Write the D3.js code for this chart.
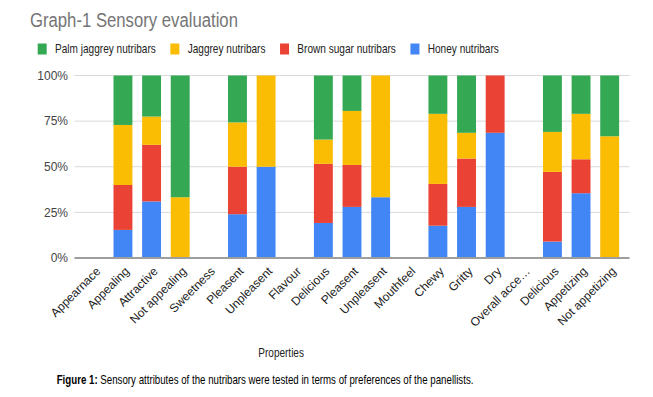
<!DOCTYPE html>
<html>
<head>
<meta charset="utf-8">
<script src="https://cdn.jsdelivr.net/npm/d3@7"></script>
<style>
  body { margin: 0; background: #fff; }
  svg { display: block; font-family: "Liberation Sans", Arial, sans-serif; }
</style>
</head>
<body>
<svg id="chart" width="653" height="397"></svg>
<script>
var categories = ["Appearnace","Appealing","Attractive","Not appealing","Sweetness","Pleasent","Unpleasent","Flavour","Delicious","Pleasent","Unpleasent","Mouthfeel","Chewy","Gritty","Dry","Overall acceptability","Delicious","Appetizing","Not appetizing"];
var honey   = [0,15.4,31,0,0,24,50,0,19.2,28,33.3,0,17.7,28,68.6,0,9,35.5,0];
var brown   = [0,24.6,31,0,0,26,0,0,32.4,23,0,0,22.9,26.5,31.4,0,38.2,18.6,0];
var jaggrey = [0,32.9,15.5,33.3,0,24.3,50,0,13.3,29.6,66.7,0,38.4,14.1,0,0,21.9,24.9,66.7];
var palm    = [0,27.1,22.5,66.7,0,25.7,0,0,35.1,19.4,0,0,21,31.4,0,0,30.9,21,33.3];
var seriesNames = ["Honey nutribars","Brown sugar nutribars","Jaggrey nutribars","Palm jaggrey nutribars"];
var seriesColors = ["#4285f4","#ea4335","#fbbc04","#34a853"];
var yTicks = [0, 0.25, 0.5, 0.75, 1];

var svg = d3.select("#chart");

// squeeze text horizontally to a measured width
function squeeze(sel, w) {
  var node = sel.node();
  var bw = node.getBBox().width;
  var x = +sel.attr("x");
  sel.attr("transform", "translate(" + x + ",0) scale(" + (w / bw) + ",1) translate(" + (-x) + ",0)");
}

var rows = categories.map(function(c, i) {
  return {i: i, h: honey[i], b: brown[i], j: jaggrey[i], p: palm[i]};
});
var stack = d3.stack().keys(["h","b","j","p"]).offset(d3.stackOffsetExpand);
var layers = stack(rows);

var x = d3.scaleBand().domain(d3.range(categories.length)).range([80, 624])
  .paddingInner(0.34).paddingOuter(0.17);
var y = d3.scaleLinear().domain([0, 1]).range([258, 75.5]);

// gridlines
svg.append("g")
  .selectAll("line")
  .data(yTicks.slice(1))
  .enter().append("line")
  .attr("x1", 74.5).attr("x2", 629.5)
  .attr("y1", function(d) { return y(d); })
  .attr("y2", function(d) { return y(d); })
  .attr("stroke", "#d9d9d9").attr("stroke-width", 1);

// bars
svg.append("g")
  .selectAll("g")
  .data(layers)
  .enter().append("g")
  .attr("fill", function(d, k) { return seriesColors[k]; })
  .selectAll("rect")
  .data(function(d) { return d.filter(function(s) { return s[1] - s[0] > 0; }); })
  .enter().append("rect")
  .attr("x", function(d) { return x(d.data.i); })
  .attr("width", x.bandwidth())
  .attr("y", function(d) { return y(d[1]); })
  .attr("height", function(d) { return y(d[0]) - y(d[1]); });

// baseline
svg.append("line")
  .attr("x1", 74.5).attr("x2", 629.5)
  .attr("y1", y(0)).attr("y2", y(0))
  .attr("stroke", "#9e9e9e").attr("stroke-width", 2);

// y axis
var yAxis = svg.append("g")
  .attr("transform", "translate(74,0)")
  .call(d3.axisLeft(y).tickValues(yTicks).tickFormat(d3.format(".0%")).tickSize(0).tickPadding(6));
yAxis.select(".domain").remove();
yAxis.selectAll("text").attr("font-size", 12).attr("fill", "#444")
  .attr("font-family", "Liberation Sans, Arial, sans-serif");

// x axis labels
var xAxis = svg.append("g")
  .attr("transform", "translate(0," + y(0) + ")")
  .call(d3.axisBottom(x).tickSize(0).tickFormat(function(i) {
    var c = categories[i];
    return c.length > 15 ? c.slice(0, 12) + "…" : c;
  }));
xAxis.select(".domain").remove();
xAxis.selectAll("text")
  .attr("font-size", 12).attr("fill", "#222")
  .attr("font-family", "Liberation Sans, Arial, sans-serif")
  .attr("text-anchor", "end")
  .attr("x", 0).attr("y", 0).attr("dy", "0.35em")
  .attr("transform", "translate(4,11) rotate(-45)");

// title
var title = svg.append("text")
  .attr("x", 30).attr("y", 27)
  .attr("font-size", 21).attr("fill", "#757575")
  .text("Graph-1 Sensory evaluation");
squeeze(title, 208);

// legend (reverse order)
var legend = svg.append("g");
var lx = 37.7;
[3, 2, 1, 0].forEach(function(k) {
  legend.append("rect")
    .attr("x", lx).attr("y", 43.5)
    .attr("width", 9).attr("height", 11)
    .attr("fill", seriesColors[k]);
  var t = legend.append("text")
    .attr("x", lx + 17.3).attr("y", 53.3)
    .attr("font-size", 12).attr("fill", "#222")
    .text(seriesNames[k]);
  var w = t.node().getBBox().width * 0.84;
  squeeze(t, w);
  lx = lx + 17.3 + w + 14.5;
});

// axis title
var xt = svg.append("text")
  .attr("x", 258.3).attr("y", 357.5)
  .attr("font-size", 12).attr("fill", "#222")
  .text("Properties");
squeeze(xt, 45.7);

// caption
var cap = svg.append("text")
  .attr("x", 56.7).attr("y", 384.5)
  .attr("font-size", 12).attr("fill", "#000");
cap.append("tspan").attr("font-weight", "bold").text("Figure 1:");
cap.append("tspan").text(" Sensory attributes of the nutribars were tested in terms of preferences of the panellists.");
squeeze(cap, 417);
</script>
</body>
</html>
